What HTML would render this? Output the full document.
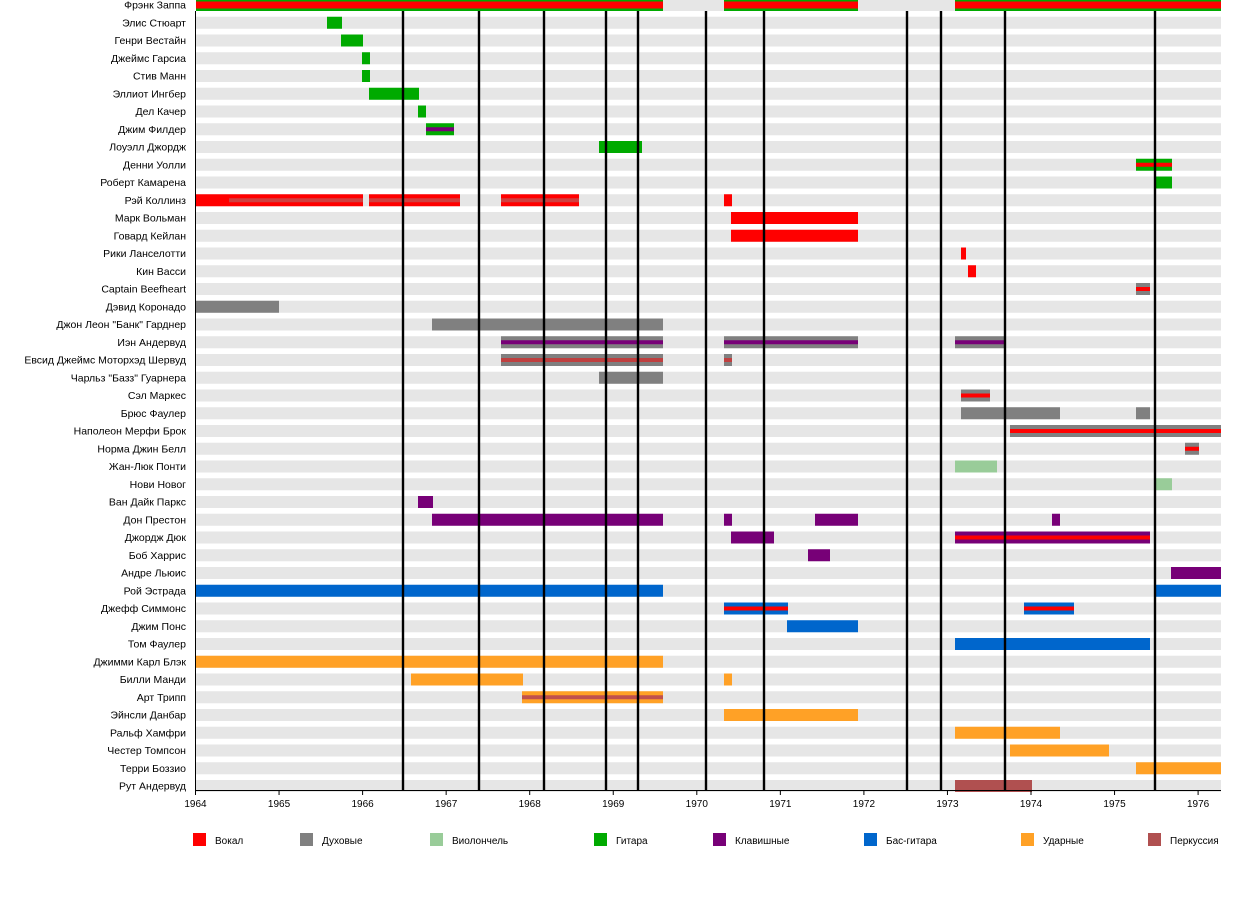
<!DOCTYPE html>
<html><head><meta charset="utf-8"><style>
body{margin:0;background:#fff;width:1250px;height:910px;overflow:hidden}
text{font-family:"Liberation Sans","DejaVu Sans",sans-serif;font-size:10px;fill:#000}
text.lab{font-size:10.5px}
</style></head><body>
<svg id="s" width="1250" height="910" xmlns="http://www.w3.org/2000/svg"></svg>
<script>
const names=["Фрэнк Заппа","Элис Стюарт","Генри Вестайн","Джеймс Гарсиа","Стив Манн","Эллиот Ингбер","Дел Качер","Джим Филдер","Лоуэлл Джордж","Денни Уолли","Роберт Камарена","Рэй Коллинз","Марк Вольман","Говард Кейлан","Рики Ланселотти","Кин Васси","Captain Beefheart","Дэвид Коронадо","Джон Леон \"Банк\" Гарднер","Иэн Андервуд","Евсид Джеймс Моторхэд Шервуд","Чарльз \"Базз\" Гуарнера","Сэл Маркес","Брюс Фаулер","Наполеон Мерфи Брок","Норма Джин Белл","Жан-Люк Понти","Нови Новог","Ван Дайк Паркс","Дон Престон","Джордж Дюк","Боб Харрис","Андре Льюис","Рой Эстрада","Джефф Симмонс","Джим Понс","Том Фаулер","Джимми Карл Блэк","Билли Манди","Арт Трипп","Эйнсли Данбар","Ральф Хамфри","Честер Томпсон","Терри Боззио","Рут Андервуд"];
const R="#ff0000",G="#808080",LG="#99cc99",GR="#00aa00",P="#770077",B="#0066cc",O="#ffa126",PE="#b05050",BR="#c0504d";
const bars=[
[0,196,663,GR,R,7],[0,724,858,GR,R,7],[0,955,1221,GR,R,7],
[1,327,342,GR],[2,341,363,GR],[3,362,370,GR],[4,362,370,GR],[5,369,419,GR],[6,418,426,GR],[7,426,454,GR,P],[8,599,642,GR],
[9,1136,1172,GR,R],[10,1156,1172,GR],
[11,196,229,R],[11,229,363,R,"#d04040"],[11,369,460,R,"#d04040"],[11,501,579,R,"#d04040"],[11,724,732,R],
[12,731,858,R],[13,731,858,R],[14,961,966,R],[15,968,976,R],[16,1136,1150,G,R],
[17,196,279,G],[18,432,663,G],[19,501,663,G,P],[19,724,858,G,P],[19,955,1004,G,P],
[20,501,663,G,"#c04040"],[20,724,732,G,"#c04040"],[21,599,663,G],[22,961,990,G,R],[23,961,1060,G],[23,1136,1150,G],
[24,1010,1221,G,R],[25,1185,1199,G,R],[26,955,997,LG],[27,1156,1172,LG],
[28,418,433,P],[29,432,663,P],[29,724,732,P],[29,815,858,P],[29,1052,1060,P],[30,731,774,P],[30,955,1150,P,R],[31,808,830,P],[32,1171,1221,P],
[33,196,663,B],[33,1156,1221,B],[34,724,788,B,R],[34,1024,1074,B,R],[35,787,858,B],[36,955,1150,B],
[37,196,663,O],[38,411,523,O],[38,724,732,O],[39,522,663,O,BR],[40,724,858,O],[41,955,1060,O],[42,1010,1109,O],[43,1136,1221,O],[44,955,1032,PE]];
let h='';
const cy=i=>5+i*17.75;
names.forEach((n,i)=>{h+=`<rect x="196" y="${cy(i)-6}" width="1025" height="12" fill="#e6e6e6"/>`;
h+=`<text class="lab" x="186" y="${cy(i)+3.5}" text-anchor="end">${n.replace(/"/g,'&quot;')}</text>`;});
bars.forEach(b=>{const y=cy(b[0]);h+=`<rect x="${b[1]}" y="${y-6}" width="${b[2]-b[1]}" height="12" fill="${b[3]}"/>`;
if(b[4]){const t=b[5]||4;h+=`<rect x="${b[1]}" y="${y-t/2}" width="${b[2]-b[1]}" height="${t}" fill="${b[4]}"/>`;}});
[403,479,544,606,638,706,764,907,941,1005,1155].forEach(x=>h+=`<rect x="${x-1.2}" y="11" width="2.4" height="780" fill="#000"/>`);
h+=`<rect x="195" y="11" width="1" height="780" fill="#000"/><rect x="195" y="790" width="1026" height="1" fill="#000"/>`;
for(let k=0;k<=12;k++){const x=195.5+k*83.55;h+=`<rect x="${x-0.5}" y="790" width="1" height="5" fill="#000"/><text x="${x}" y="807" text-anchor="middle">${1964+k}</text>`;}
const leg=[[193,R,"Вокал"],[300,G,"Духовые"],[430,LG,"Виолончель"],[594,GR,"Гитара"],[713,P,"Клавишные"],[864,B,"Бас-гитара"],[1021,O,"Ударные"],[1148,PE,"Перкуссия"]];
leg.forEach(l=>h+=`<rect x="${l[0]}" y="833" width="13" height="13" fill="${l[1]}"/><text x="${l[0]+22}" y="844">${l[2]}</text>`);
document.getElementById('s').innerHTML=h;
</script>
</body></html>
